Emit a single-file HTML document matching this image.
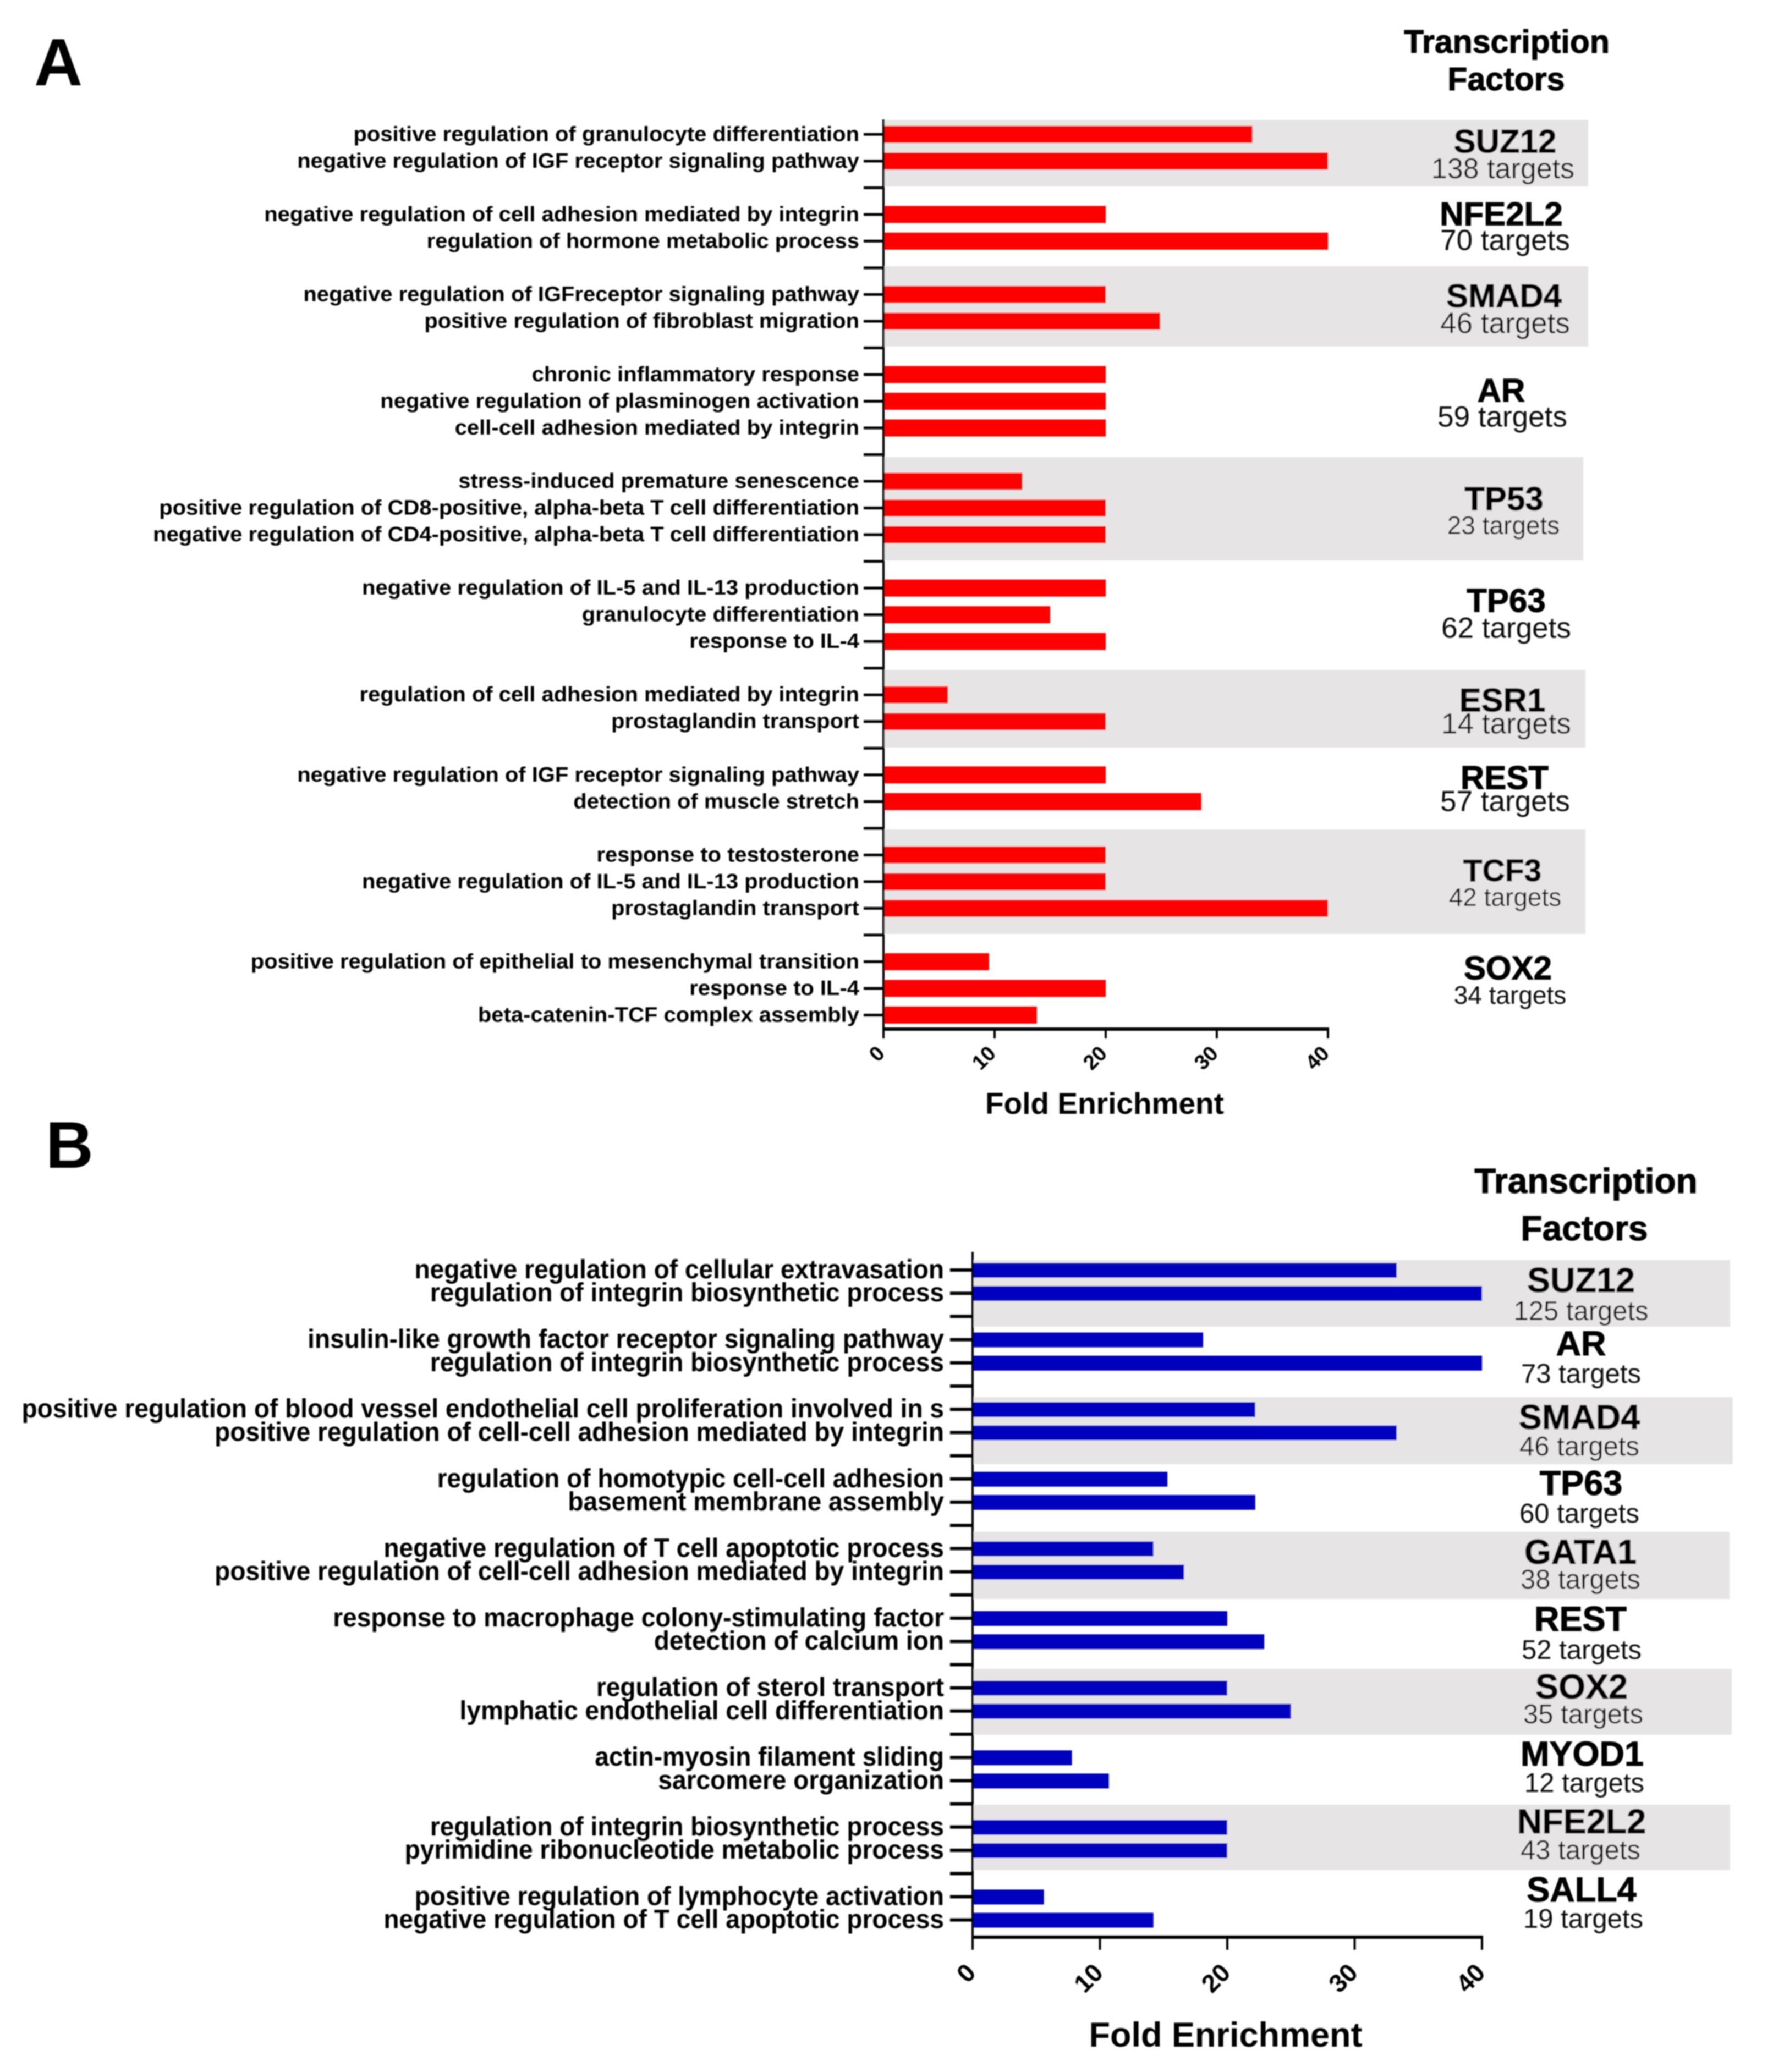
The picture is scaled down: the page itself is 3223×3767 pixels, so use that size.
<!DOCTYPE html>
<html lang="en">
<head>
<meta charset="utf-8">
<title>Transcription factor enrichment</title>
<style>
html,body{margin:0;padding:0;background:#fff}
svg{display:block}
text{font-family:"Liberation Sans",Arial,sans-serif}
.b{font-weight:bold;fill:#000}
.t{fill:#111;dominant-baseline:central;text-anchor:middle}
.n{font-weight:bold;fill:#000;stroke:#000;stroke-width:1;dominant-baseline:central;text-anchor:middle}
.band{fill:#e6e4e5}
</style>
</head>
<body>
<svg id="fig" xmlns="http://www.w3.org/2000/svg" width="3223" height="3767" viewBox="0 0 3223 3767">
<defs><filter id="soft" x="0" y="0" width="100%" height="100%"><feGaussianBlur stdDeviation="1.1"/></filter></defs>
<rect width="3223" height="3767" fill="#fff"/>
<g filter="url(#soft)">
<text class="b" x="62" y="155" font-size="122">A</text>
<text class="b" x="83" y="2123" font-size="120">B</text>

<g>
<rect class="band" x="1606" y="218" width="1281" height="121"/>
<rect class="band" x="1606" y="484" width="1281" height="146"/>
<rect class="band" x="1606" y="831" width="1272" height="188"/>
<rect class="band" x="1606" y="1218" width="1276" height="141"/>
<rect class="band" x="1606" y="1508" width="1276" height="190"/>
</g>
<g>
<rect class="band" x="1768" y="2291" width="1377" height="121"/>
<rect class="band" x="1768" y="2540" width="1382" height="122"/>
<rect class="band" x="1768" y="2785" width="1376" height="122"/>
<rect class="band" x="1768" y="3034" width="1380" height="120"/>
<rect class="band" x="1768" y="3281" width="1377" height="119"/>
</g>

<g id="chartA"></g>
<g id="chartB"></g>

<g>
<text class="n" x="2739" y="76" font-size="59">Transcription</text>
<text class="n" x="2738" y="144" font-size="59">Factors</text>
<text class="n" x="2736" y="257" font-size="60">SUZ12</text>
<text class="t" x="2732" y="307" font-size="52">138 targets</text>
<text class="n" x="2729" y="389" font-size="60">NFE2L2</text>
<text class="t" x="2736" y="437" font-size="53">70 targets</text>
<text class="n" x="2734" y="538" font-size="60">SMAD4</text>
<text class="t" x="2736" y="588" font-size="53">46 targets</text>
<text class="n" x="2729" y="710" font-size="60">AR</text>
<text class="t" x="2731" y="758" font-size="53">59 targets</text>
<text class="n" x="2734" y="907" font-size="60">TP53</text>
<text class="t" x="2733" y="955" font-size="46">23 targets</text>
<text class="n" x="2738" y="1092" font-size="60">TP63</text>
<text class="t" x="2738" y="1142" font-size="53">62 targets</text>
<text class="n" x="2731" y="1273" font-size="60">ESR1</text>
<text class="t" x="2738" y="1316" font-size="53">14 targets</text>
<text class="n" x="2735" y="1414" font-size="60">REST</text>
<text class="t" x="2736" y="1457" font-size="53">57 targets</text>
<text class="n" x="2731" y="1583" font-size="57">TCF3</text>
<text class="t" x="2736" y="1631" font-size="46">42 targets</text>
<text class="n" x="2741" y="1760" font-size="60">SOX2</text>
<text class="t" x="2745" y="1809" font-size="46">34 targets</text>
</g>

<g>
<text class="n" x="2883" y="2147" font-size="64">Transcription</text>
<text class="n" x="2880" y="2233" font-size="64">Factors</text>
<text class="n" x="2874" y="2328" font-size="63">SUZ12</text>
<text class="t" x="2874" y="2384" font-size="49">125 targets</text>
<text class="n" x="2874" y="2443" font-size="63">AR</text>
<text class="t" x="2874" y="2498" font-size="49">73 targets</text>
<text class="n" x="2871" y="2577" font-size="63">SMAD4</text>
<text class="t" x="2871" y="2630" font-size="49">46 targets</text>
<text class="n" x="2874" y="2697" font-size="63">TP63</text>
<text class="t" x="2871" y="2752" font-size="49">60 targets</text>
<text class="n" x="2873" y="2822" font-size="63">GATA1</text>
<text class="t" x="2873" y="2872" font-size="49">38 targets</text>
<text class="n" x="2873" y="2944" font-size="63">REST</text>
<text class="t" x="2875" y="3000" font-size="49">52 targets</text>
<text class="n" x="2875" y="3067" font-size="63">SOX2</text>
<text class="t" x="2878" y="3117" font-size="49">35 targets</text>
<text class="n" x="2876" y="3189" font-size="63">MYOD1</text>
<text class="t" x="2880" y="3242" font-size="49">12 targets</text>
<text class="n" x="2875" y="3312" font-size="63">NFE2L2</text>
<text class="t" x="2873" y="3364" font-size="49">43 targets</text>
<text class="n" x="2875" y="3436" font-size="63">SALL4</text>
<text class="t" x="2878" y="3489" font-size="49">19 targets</text>
</g>
</g>
</svg>
<script>
var categoriesA = [
"positive regulation of granulocyte differentiation","negative regulation of IGF receptor signaling pathway","",
"negative regulation of cell adhesion mediated by integrin","regulation of hormone metabolic process","",
"negative regulation of IGFreceptor signaling pathway","positive regulation of fibroblast migration","",
"chronic inflammatory response","negative regulation of plasminogen activation","cell-cell adhesion mediated by integrin","",
"stress-induced premature senescence","positive regulation of CD8-positive, alpha-beta T cell differentiation","negative regulation of CD4-positive, alpha-beta T cell differentiation","",
"negative regulation of IL-5 and IL-13 production","granulocyte differentiation","response to IL-4","",
"regulation of cell adhesion mediated by integrin","prostaglandin transport","",
"negative regulation of IGF receptor signaling pathway","detection of muscle stretch","",
"response to testosterone","negative regulation of IL-5 and IL-13 production","prostaglandin transport","",
"positive regulation of epithelial to mesenchymal transition","response to IL-4","beta-catenin-TCF complex assembly"
];
var valuesA = [33.2,40,null,20,40,null,20,24.9,null,20,20,20,null,12.5,20,20,null,20,15,20,null,5.8,20,null,20,28.6,null,20,20,40,null,9.5,20,13.8];
var categoriesB = [
"negative regulation of cellular extravasation","regulation of integrin biosynthetic process","",
"insulin-like growth factor receptor signaling pathway","regulation of integrin biosynthetic process","",
"positive regulation of blood vessel endothelial cell proliferation involved in s","positive regulation of cell-cell adhesion mediated by integrin","",
"regulation of homotypic cell-cell adhesion","basement membrane assembly","",
"negative regulation of T cell apoptotic process","positive regulation of cell-cell adhesion mediated by integrin","",
"response to macrophage colony-stimulating factor","detection of calcium ion","",
"regulation of sterol transport","lymphatic endothelial cell differentiation","",
"actin-myosin filament sliding","sarcomere organization","",
"regulation of integrin biosynthetic process","pyrimidine ribonucleotide metabolic process","",
"positive regulation of lymphocyte activation","negative regulation of T cell apoptotic process"
];
var valuesB = [33.3,40,null,18.1,40,null,22.2,33.3,null,15.3,22.2,null,14.2,16.6,null,20,22.9,null,20,25,null,7.8,10.7,null,20,20,null,5.6,14.2];
var xTicks = [0,10,20,30,40];
var xTitle = "Fold Enrichment";

var NS = "http://www.w3.org/2000/svg";
function mk(parent, tag, attrs, txt) {
  var el = document.createElementNS(NS, tag);
  for (var k in attrs) el.setAttribute(k, attrs[k]);
  if (txt !== undefined) el.textContent = txt;
  parent.appendChild(el);
  return el;
}

function drawPanel(rootId, cats, vals, o) {
  var root = document.getElementById(rootId);
  var xs = function (v) { return o.x0 + (v / 40) * (o.x40 - o.x0); };
  var ys = function (i) { return o.y0 + i * o.step; };
  for (var i = 0; i < cats.length; i++) {
    var yy = ys(i);
    if (vals[i] !== null) {
      var bar = mk(root, "rect", {x: o.x0, y: yy - o.barH / 2 + o.barDy, width: xs(vals[i]) - o.x0, height: o.barH, fill: o.color});
      
      
    }
    var tick = mk(root, "line", {x1: o.tickX, x2: o.x0, y1: yy, y2: yy, stroke: "#000", "stroke-width": o.tickW});
    
    
    if (cats[i]) {
      var lab = mk(root, "text", {transform: "translate(" + o.labelX + "," + (yy + o.labelDy) + ") scale(" + o.labelSx + ",1)", "text-anchor": "end", "font-size": o.labelSize, "font-weight": "bold", fill: "#000"}, cats[i]);
      
      
    }
  }
  var yAxis = mk(root, "line", {x1: o.x0, x2: o.x0, y1: o.axisTop, y2: o.xTickEnd, stroke: "#000", "stroke-width": 4});
  
  
  var xAxis = mk(root, "line", {x1: o.x0 - 2, x2: o.x40 + 2, y1: o.axisY, y2: o.axisY, stroke: "#000", "stroke-width": 6});
  
  
  xTicks.forEach(function (t) {
    var tx = xs(t);
    var xt = mk(root, "line", {x1: tx, x2: tx, y1: o.axisY, y2: o.xTickEnd, stroke: "#000", "stroke-width": 4});
    
    
    var ex = tx + o.tickDx, ey = o.axisY + o.tickDy;
    var tl = mk(root, "text", {x: ex, y: ey, transform: "rotate(-45 " + ex + " " + ey + ")", "text-anchor": "end", "dominant-baseline": "central", "font-size": o.tickSize, "font-weight": "bold", fill: "#000"}, String(t));
    
    
  });
  var title = mk(root, "text", {x: o.titleX, y: o.titleY, "text-anchor": "middle", "font-size": o.titleSize, "font-weight": "bold", fill: "#000"}, xTitle);
  
  
}

drawPanel("chartA", categoriesA, valuesA, {
  x0: 1606, x40: 2414, y0: 244.3, step: 48.52, barH: 31, barDy: 0, color: "#ff0000",
  tickX: 1570, tickW: 5, labelX: 1562, labelDy: 12, labelSize: 38, labelSx: 1.052,
  axisTop: 217, axisY: 1871, xTickEnd: 1888, tickDx: -4, tickDy: 38, tickSize: 38,
  titleX: 2008, titleY: 2025, titleSize: 55
});
drawPanel("chartB", categoriesB, valuesB, {
  x0: 1768, x40: 2694, y0: 2309, step: 42.2, barH: 27, barDy: 0.5, color: "#0000bf",
  tickX: 1727, tickW: 6, labelX: 1716, labelDy: 15, labelSize: 48, labelSx: 0.96,
  axisTop: 2276, axisY: 3522, xTickEnd: 3545, tickDx: -3, tickDy: 56, tickSize: 46,
  titleX: 2228, titleY: 3721, titleSize: 63
});
</script>
</body>
</html>
